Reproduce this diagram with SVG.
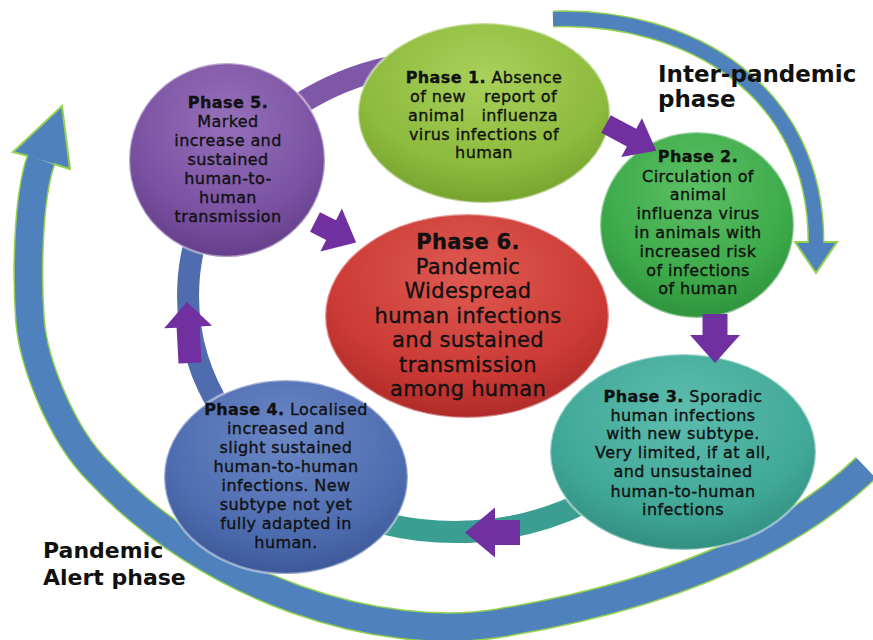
<svg xmlns="http://www.w3.org/2000/svg" width="873" height="640" viewBox="0 0 873 640">
<defs>
<style>
.t{font-family:"DejaVu Sans",Verdana,sans-serif;font-size:16px;letter-spacing:0.4px;fill:#111;text-anchor:middle;stroke:#111;stroke-width:0.35}
.s{text-anchor:start}
.e{text-anchor:end}
.b{font-weight:bold}
.t6{font-size:21px;letter-spacing:0.3px}
.lbl{font-family:"DejaVu Sans",Verdana,sans-serif;font-weight:bold;fill:#111}
.rim{stroke:#ffffff;stroke-opacity:0.45;stroke-width:2.5}
.parr{fill:#7030A0}
.bgo{fill:none;stroke:#92D050}
.bgi{fill:none;stroke:#4F81BD}
.bgh{fill:#4F81BD;stroke:#92D050;stroke-width:2;stroke-linejoin:miter}
.ring{fill:none;stroke-width:22}
</style>
<radialGradient id="g1" cx="50%" cy="30%" r="75%"><stop offset="0" stop-color="#A8D05A"/><stop offset="0.65" stop-color="#8DBB3D"/><stop offset="1" stop-color="#729E2B"/></radialGradient>
<radialGradient id="g2" cx="50%" cy="30%" r="75%"><stop offset="0" stop-color="#5CC064"/><stop offset="0.65" stop-color="#3DAA4A"/><stop offset="1" stop-color="#2B8E3A"/></radialGradient>
<radialGradient id="g3" cx="50%" cy="30%" r="75%"><stop offset="0" stop-color="#5DBDAE"/><stop offset="0.65" stop-color="#41A898"/><stop offset="1" stop-color="#2F8A7C"/></radialGradient>
<radialGradient id="g4" cx="50%" cy="30%" r="75%"><stop offset="0" stop-color="#6B87C6"/><stop offset="0.65" stop-color="#4E6DB0"/><stop offset="1" stop-color="#3A5493"/></radialGradient>
<radialGradient id="g5" cx="50%" cy="30%" r="75%"><stop offset="0" stop-color="#9570BA"/><stop offset="0.65" stop-color="#7B52A2"/><stop offset="1" stop-color="#5F3A86"/></radialGradient>
<radialGradient id="g6" cx="50%" cy="30%" r="75%"><stop offset="0" stop-color="#DE5A52"/><stop offset="0.65" stop-color="#CC3A35"/><stop offset="1" stop-color="#A82826"/></radialGradient>
</defs>

<g id="connectors">
  <path class="bgo" stroke-width="30" d="M 866 468 C 807 524, 700 590, 500 623 C 380 643, 210 590, 100 473 C 60 434, 33 360, 30 320 C 27 280, 27 200, 41 160"/>
  <path class="bgi" stroke-width="27" d="M 866 468 C 807 524, 700 590, 500 623 C 380 643, 210 590, 100 473 C 60 434, 33 360, 30 320 C 27 280, 27 200, 41 160"/>
  <path class="bgh" d="M28,156 L13,152 L62,106 L70,169 L54,164"/>
  <path class="bgo" stroke-width="17" d="M 553 19 C 690 15, 816 90, 816 242"/>
  <path class="bgi" stroke-width="14" d="M 553 19 C 690 15, 816 90, 816 242"/>
  <path class="bgh" d="M809,242 L795,242 L816,273 L837,242 L823,242"/>
  <path class="ring" stroke="#4F6DAE" d="M 223.8 414 A 267 236 0 0 1 223.8 178"/>
  <path class="ring" stroke="#7E57A8" d="M 223.8 178 A 267 236 0 0 1 546.3 74.2"/>
  <path class="ring" stroke="#3B9E92" d="M 588.5 500.4 A 267 236 0 0 1 223.8 414"/>
</g>

<g id="phase1">
  <ellipse cx="484" cy="113" rx="126" ry="90" fill="url(#g1)" class="rim"/>
  <text class="t" x="484" y="83"><tspan class="b">Phase 1.</tspan> Absence</text>
  <text class="t s" x="410" y="102">of new</text>
  <text class="t e" x="557" y="102">report of</text>
  <text class="t s" x="408" y="121">animal</text>
  <text class="t e" x="558" y="121">influenza</text>
  <text class="t" x="484" y="140">virus infections of</text>
  <text class="t" x="484" y="158">human</text>
</g>

<g id="phase2">
  <ellipse cx="697" cy="225" rx="97" ry="93" fill="url(#g2)" class="rim"/>
  <text class="t b" x="698" y="162">Phase 2.</text>
  <text class="t" x="698" y="182">Circulation of</text>
  <text class="t" x="698" y="200">animal</text>
  <text class="t" x="698" y="219">influenza virus</text>
  <text class="t" x="698" y="238">in animals with</text>
  <text class="t" x="698" y="257">increased risk</text>
  <text class="t" x="698" y="276">of infections</text>
  <text class="t" x="698" y="294">of human</text>
</g>

<g id="phase3">
  <ellipse cx="683" cy="452" rx="133" ry="98" fill="url(#g3)" class="rim"/>
  <text class="t" x="683" y="402"><tspan class="b">Phase 3.</tspan> Sporadic</text>
  <text class="t" x="683" y="421">human infections</text>
  <text class="t" x="683" y="439">with new subtype.</text>
  <text class="t" x="683" y="458">Very limited, if at all,</text>
  <text class="t" x="683" y="477">and unsustained</text>
  <text class="t" x="683" y="497">human-to-human</text>
  <text class="t" x="683" y="515">infections</text>
</g>

<g id="phase4">
  <ellipse cx="286" cy="477" rx="122" ry="97" fill="url(#g4)" class="rim"/>
  <text class="t" x="286" y="415"><tspan class="b">Phase 4.</tspan> Localised</text>
  <text class="t" x="286" y="434">increased and</text>
  <text class="t" x="286" y="453">slight sustained</text>
  <text class="t" x="286" y="472">human-to-human</text>
  <text class="t" x="286" y="491">infections. New</text>
  <text class="t" x="286" y="510">subtype not yet</text>
  <text class="t" x="286" y="529">fully adapted in</text>
  <text class="t" x="286" y="548">human.</text>
</g>

<g id="phase5">
  <ellipse cx="227" cy="160" rx="98" ry="97" fill="url(#g5)" class="rim"/>
  <text class="t b" x="228" y="108">Phase 5.</text>
  <text class="t" x="228" y="127">Marked</text>
  <text class="t" x="228" y="146">increase and</text>
  <text class="t" x="228" y="165">sustained</text>
  <text class="t" x="228" y="184">human-to-</text>
  <text class="t" x="228" y="203">human</text>
  <text class="t" x="228" y="222">transmission</text>
</g>

<g id="phase6">
  <ellipse cx="467" cy="316" rx="142" ry="102" fill="url(#g6)" class="rim"/>
  <text class="t t6 b" x="468" y="249">Phase 6.</text>
  <text class="t t6" x="468" y="274">Pandemic</text>
  <text class="t t6" x="468" y="298">Widespread</text>
  <text class="t t6" x="468" y="323">human infections</text>
  <text class="t t6" x="468" y="347">and sustained</text>
  <text class="t t6" x="468" y="372">transmission</text>
  <text class="t t6" x="468" y="396">among human</text>
</g>

<g id="arrows">
  <polygon class="parr" transform="translate(606,124) rotate(28)" points="0,-10 29,-10 29,-22 57,0 29,22 29,10 0,10"/>
  <polygon class="parr" transform="translate(715,314) rotate(90)" points="0,-12.5 21,-12.5 21,-25 49,0 21,25 21,12.5 0,12.5"/>
  <polygon class="parr" transform="translate(520,532.5) rotate(180)" points="0,-12.5 25,-12.5 25,-25 55,0 25,25 25,12.5 0,12.5"/>
  <polygon class="parr" transform="translate(190,363) rotate(-93)" points="0,-11.5 36,-11.5 36,-24 61,0 36,24 36,11.5 0,11.5"/>
  <polygon class="parr" transform="translate(315,222) rotate(26.6)" points="0,-11 18,-11 18,-24 46,0 18,24 18,11 0,11"/>
</g>

<g id="labels">
  <text class="lbl" font-size="23" x="658" y="82">Inter-pandemic</text>
  <text class="lbl" font-size="23" x="658" y="107">phase</text>
  <text class="lbl" font-size="22" x="43" y="558">Pandemic</text>
  <text class="lbl" font-size="22" x="43" y="585">Alert phase</text>
</g>
</svg>
